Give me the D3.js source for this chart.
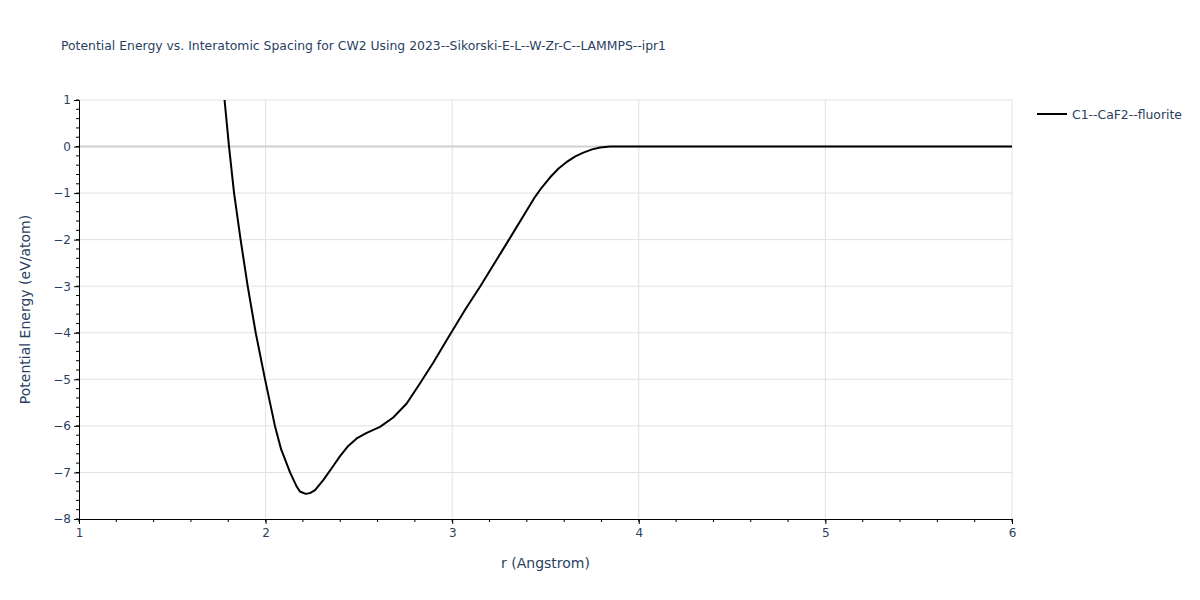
<!DOCTYPE html>
<html>
<head>
<meta charset="utf-8">
<script src="https://cdn.jsdelivr.net/npm/d3@7"></script>
<style>
  body { margin: 0; background: #fff; }
  text { font-family: "DejaVu Sans", verdana, arial, sans-serif; fill: #2a3f5f; }
</style>
</head>
<body>
<div id="chart-area"></div>
<script>
// data
var rValues = [1.78, 1.804, 1.831, 1.866, 1.904, 1.947, 1.997, 2.050, 2.083, 2.131, 2.166, 2.184,
    2.215, 2.240, 2.265, 2.310, 2.354, 2.399, 2.443, 2.488, 2.542, 2.613, 2.684, 2.756, 2.827,
    2.899, 2.970, 3.07, 3.149, 3.292, 3.444, 3.48, 3.525, 3.57, 3.614, 3.66, 3.703, 3.75, 3.792,
    3.846, 4.0, 5.0, 6.0];
var energyValues = [1.0, 0, -1, -2, -3, -4, -5, -6, -6.5, -7.0, -7.3, -7.41,
    -7.46, -7.44, -7.38, -7.16, -6.91, -6.65, -6.43, -6.27, -6.15, -6.02, -5.82, -5.52, -5.09,
    -4.64, -4.16, -3.5, -3.01, -2.08, -1.08, -0.88, -0.66, -0.47, -0.33, -0.21, -0.13, -0.06, -0.02,
    0, 0, 0, 0];
var xTicks = [1, 2, 3, 4, 5, 6];
var yTicks = [1, 0, -1, -2, -3, -4, -5, -6, -7, -8];
var seriesName = "C1--CaF2--fluorite";

var margin = {top: 100, right: 188, bottom: 81, left: 79};
var width = 1200 - margin.left - margin.right;
var height = 600 - margin.top - margin.bottom;

var svg = d3.select("#chart-area")
    .append("svg")
    .attr("width", 1200)
    .attr("height", 600);

var g = svg.append("g")
    .attr("transform", "translate(" + margin.left + ", " + margin.top + ")");

var x = d3.scaleLinear().domain([1, 6]).range([0, width]);
var y = d3.scaleLinear().domain([-8, 1]).range([height, 0]);

// grid
g.selectAll(".xgrid").data(xTicks.slice(1)).enter()
    .append("line")
    .attr("x1", d => x(d)).attr("x2", d => x(d))
    .attr("y1", 0).attr("y2", height)
    .attr("stroke", "#e1e1e1").attr("stroke-width", 1);

g.selectAll(".ygrid").data(yTicks.filter(d => d !== 0 && d !== -8)).enter()
    .append("line")
    .attr("x1", 0).attr("x2", width)
    .attr("y1", d => y(d)).attr("y2", d => y(d))
    .attr("stroke", "#e1e1e1").attr("stroke-width", 1);

// zero line
g.append("line")
    .attr("x1", 0).attr("x2", width)
    .attr("y1", y(0)).attr("y2", y(0))
    .attr("stroke", "#d0d0d0").attr("stroke-width", 2);

// minor ticks
var xMinor = d3.range(1, 6.001, 0.2);
var yMinor = d3.range(-8, 1.001, 0.2);
g.selectAll(".xminor").data(xMinor).enter()
    .append("line")
    .attr("x1", d => x(d)).attr("x2", d => x(d))
    .attr("y1", height).attr("y2", height + 3)
    .attr("stroke", "#000");
g.selectAll(".yminor").data(yMinor).enter()
    .append("line")
    .attr("x1", -3).attr("x2", 0)
    .attr("y1", d => y(d)).attr("y2", d => y(d))
    .attr("stroke", "#000");

// axes
var xAxisCall = d3.axisBottom(x).tickValues(xTicks).tickSize(5).tickPadding(4)
    .tickFormat(d3.format("d"));
var xAxisGroup = g.append("g")
    .attr("transform", "translate(0, " + height + ")")
    .call(xAxisCall);

var yAxisCall = d3.axisLeft(y).tickValues(yTicks).tickSize(5).tickPadding(3)
    .tickFormat(d => d < 0 ? "\u2212" + Math.abs(d) : d);
var yAxisGroup = g.append("g").call(yAxisCall);

[xAxisGroup, yAxisGroup].forEach(ax => {
    ax.select(".domain").attr("stroke", "#000").attr("stroke-width", 1);
    ax.selectAll(".tick line").attr("stroke", "#000");
    ax.selectAll(".tick text").attr("font-size", "12px").attr("fill", "#2a3f5f")
        .style("font-family", "'DejaVu Sans', verdana, arial, sans-serif");
});

// clip
svg.append("clipPath").attr("id", "clip")
    .append("rect").attr("width", width).attr("height", height);

var line = d3.line()
    .x((d, i) => x(rValues[i]))
    .y(d => y(d));

g.append("path")
    .datum(energyValues)
    .attr("clip-path", "url(#clip)")
    .attr("fill", "none")
    .attr("stroke", "#000")
    .attr("stroke-width", 2)
    .attr("stroke-linejoin", "round")
    .attr("d", line);

// title
svg.append("text")
    .attr("x", 61).attr("y", 50)
    .attr("font-size", "12.4px")
    .text("Potential Energy vs. Interatomic Spacing for CW2 Using 2023--Sikorski-E-L--W-Zr-C--LAMMPS--ipr1");

// axis labels
svg.append("text")
    .attr("x", margin.left + width / 2).attr("y", 568)
    .attr("font-size", "14px")
    .attr("text-anchor", "middle")
    .text("r (Angstrom)");

svg.append("text")
    .attr("transform", "translate(30, " + (margin.top + height / 2) + ") rotate(-90)")
    .attr("font-size", "14px")
    .attr("text-anchor", "middle")
    .text("Potential Energy (eV/atom)");

// legend
var legend = svg.append("g").attr("transform", "translate(1037, 114)");
legend.append("line")
    .attr("x1", 0).attr("x2", 30).attr("y1", 0).attr("y2", 0)
    .attr("stroke", "#000").attr("stroke-width", 2);
legend.append("text")
    .attr("x", 35).attr("y", 4.5)
    .attr("font-size", "12.4px")
    .text(seriesName);
</script>
</body>
</html>
